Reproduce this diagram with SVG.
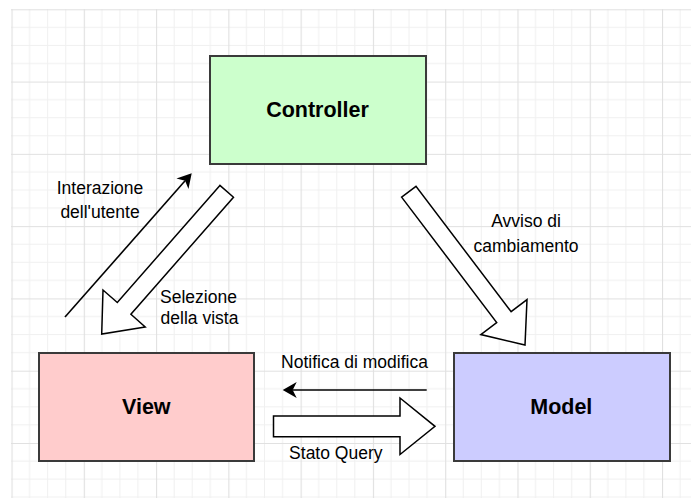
<svg xmlns="http://www.w3.org/2000/svg" width="691" height="498" viewBox="0 0 691 498">
  <defs>
    <!-- minor grid every ~18px, major every 4 cells -->
    <pattern id="grid" patternUnits="userSpaceOnUse" x="11.5" y="9.3" width="72.28" height="72.28">
      <path d="M18.07 0V72.28M36.14 0V72.28M54.21 0V72.28M0 18.07H72.28M0 36.14H72.28M0 54.21H72.28" fill="none" stroke="#f0f0f0" stroke-width="1"/>
      <path d="M0.5 0V72.28M0 0.5H72.28" fill="none" stroke="#e0e0e0" stroke-width="1.2"/>
    </pattern>
    <marker id="head" markerUnits="userSpaceOnUse" markerWidth="16" markerHeight="18" refX="4" refY="8" orient="auto" overflow="visible">
      <path d="M0,0 L14,8 L0,16 L4,8 Z" fill="#000"/>
    </marker>
    <style>
      .box { stroke: #3a3a3a; stroke-width: 2; }
      .title { font-family: "Liberation Sans", Arial, sans-serif; font-weight: bold; font-size: 21.5px; fill: #000; text-anchor: middle; }
      .label { font-family: "Liberation Sans", Arial, sans-serif; font-size: 17.5px; fill: #000; text-anchor: middle; }
      .thin { fill: none; stroke: #000; stroke-width: 1.6; marker-end: url(#head); }
      .fat { fill: #fff; stroke: #000; stroke-width: 1.5; stroke-linejoin: miter; }
    </style>
  </defs>

  <rect width="691" height="498" fill="#fff"/>
  <rect x="11" y="9" width="680" height="489" fill="url(#grid)"/>

  <g id="controller">
    <rect class="box" x="210" y="56" width="216" height="108" fill="#ccffcc"/>
    <text class="title" x="317.5" y="117.3">Controller</text>
  </g>

  <g id="view">
    <rect class="box" x="39" y="353" width="215" height="108" fill="#ffcccc"/>
    <text class="title" x="146.3" y="414.3">View</text>
  </g>

  <g id="model">
    <rect class="box" x="454" y="353" width="216" height="108" fill="#ccccff"/>
    <text class="title" x="561.3" y="414.3">Model</text>
  </g>

  <g id="connectors">
    <!-- user interaction: View -> Controller -->
    <path class="thin" d="M65,317 L185.1,180.8"/>
    <text class="label" x="100" y="194.4">Interazione</text>
    <text class="label" x="100" y="218.4">dell'utente</text>

    <!-- view selection: Controller -> View -->
    <polygon class="fat" points="219.9,185.4 117.3,302.5 103.0,290.0 101.7,334.0 145.2,326.9 130.9,314.3 233.5,197.2"/>
    <text class="label" x="198.5" y="302.7">Selezione</text>
    <text class="label" x="199.5" y="324">della vista</text>

    <!-- change notice: Controller -> Model -->
    <polygon class="fat" points="401.6,197.1 496.7,322.5 480.8,334.6 525.0,345.0 527.0,299.6 511.1,311.7 416.0,186.3"/>
    <text class="label" x="526" y="226.7">Avviso di</text>
    <text class="label" x="526" y="251.7">cambiamento</text>

    <!-- change notification: Model -> View -->
    <path class="thin" d="M426.7,390 L292.7,390"/>
    <text class="label" x="354.5" y="368.3">Notifica di modifica</text>

    <!-- state query: View -> Model -->
    <polygon class="fat" points="273.5,416 400,416 400,398 435,426.3 400,454.5 400,436.7 273.5,436.7"/>
    <text class="label" x="335.8" y="459.3">Stato Query</text>
  </g>
</svg>
